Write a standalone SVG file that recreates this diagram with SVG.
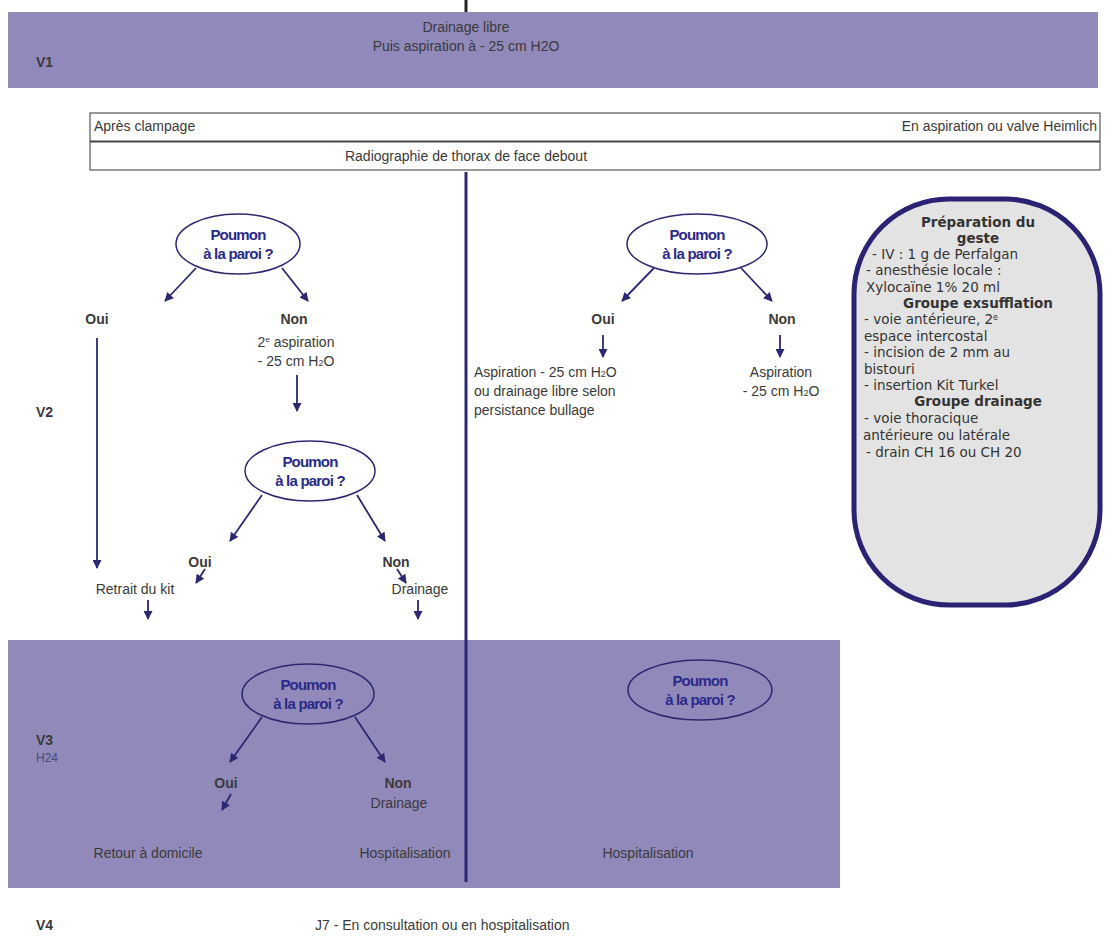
<svg xmlns="http://www.w3.org/2000/svg" width="1112" height="944" viewBox="0 0 1112 944">
<style>
.t{font-family:"Liberation Sans Narrow","Liberation Sans",Arial,sans-serif;font-size:14px;fill:#3a3a3a}
.c{text-anchor:middle}
.b{font-weight:bold}
.q{font-family:"Liberation Sans Narrow","Liberation Sans",Arial,sans-serif;font-size:15px;font-weight:bold;fill:#2a2a8a;text-anchor:middle;letter-spacing:-0.8px}
.lbl{font-family:"Liberation Sans",Arial,sans-serif;font-size:14px;font-weight:bold;fill:#3a3a3a}
.p{font-family:"DejaVu Sans",Verdana,sans-serif;font-size:13.5px;fill:#333}
.pb{font-weight:bold}
.band{fill:#9189ba}
.ell{fill:#fff;stroke:#2c2870;stroke-width:1.5}
.ellb{fill:#9189ba;stroke:#2c2870;stroke-width:1.5}
.ar{stroke:#2c2870;stroke-width:1.8;fill:none;marker-end:url(#ah)}
</style>
<defs>
<marker id="ah" viewBox="0 0 10 10" refX="9" refY="5" markerWidth="10" markerHeight="9" orient="auto" markerUnits="userSpaceOnUse">
<path d="M0,0 L10,5 L0,10 z" fill="#2c2870"/>
</marker>
</defs>
<rect width="1112" height="944" fill="#fff"/>

<g id="bands">
<rect class="band" x="8" y="12" width="1090" height="76"/>
<rect class="band" x="8" y="640" width="832" height="248"/>
</g>

<g id="v1">
<text class="lbl" x="36" y="67">V1</text>
<text class="t c" x="466" y="32">Drainage libre</text>
<text class="t c" x="466" y="51">Puis aspiration à - 25 cm H2O</text>
</g>

<g id="box">
<rect x="90" y="113" width="1010" height="57" fill="#fff" stroke="#555" stroke-width="1.2"/>
<line x1="90" y1="141.5" x2="1100" y2="141.5" stroke="#444" stroke-width="2"/>
<text class="t" x="94" y="131">Après clampage</text>
<text class="t" x="1097" y="131" text-anchor="end">En aspiration ou valve Heimlich</text>
<text class="t c" x="466" y="161">Radiographie de thorax de face debout</text>
</g>

<g id="labels">
<text class="lbl" x="36" y="417">V2</text>
<text class="lbl" x="36" y="745">V3</text>
<text class="t" x="36" y="762" style="font-size:12px;fill:#4a4a7a">H24</text>
<text class="lbl" x="36" y="930">V4</text>
<text class="t" x="315" y="930">J7 - En consultation ou en hospitalisation</text>
</g>

<g id="connectors">
<line x1="466" y1="0" x2="466" y2="12" stroke="#222" stroke-width="3"/>
<line x1="466" y1="172" x2="466" y2="882" stroke="#2c2870" stroke-width="3"/>
<line class="ar" x1="196" y1="268" x2="165" y2="301"/>
<line class="ar" x1="282" y1="268" x2="308" y2="301"/>
<line class="ar" x1="297" y1="375" x2="297" y2="411"/>
<line class="ar" x1="97" y1="338" x2="97" y2="568"/>
<line class="ar" x1="262" y1="495" x2="230" y2="541"/>
<line class="ar" x1="357" y1="495" x2="385" y2="541"/>
<line class="ar" x1="205" y1="569" x2="196" y2="583"/>
<line class="ar" x1="397" y1="569" x2="406" y2="583"/>
<line class="ar" x1="148" y1="600" x2="148" y2="619"/>
<line class="ar" x1="418" y1="600" x2="418" y2="619"/>
<line class="ar" x1="654" y1="268" x2="622" y2="301"/>
<line class="ar" x1="741" y1="268" x2="772" y2="301"/>
<line class="ar" x1="603" y1="335" x2="603" y2="357"/>
<line class="ar" x1="780" y1="335" x2="780" y2="357"/>
<line class="ar" x1="262" y1="717" x2="230" y2="762"/>
<line class="ar" x1="355" y1="717" x2="385" y2="762"/>
<line class="ar" x1="231" y1="794" x2="222" y2="810"/>
</g>

<g id="q1">
<ellipse class="ell" cx="238" cy="244" rx="62" ry="30"/>
<text class="q" x="238" y="240">Poumon</text>
<text class="q" x="238" y="259">à la paroi ?</text>
</g>
<g id="l-oui"><text class="t b c" x="97" y="324">Oui</text></g>
<g id="l-non"><text class="t b c" x="294" y="324">Non</text>
<text class="t c" x="296" y="347">2<tspan dy="-5" font-size="8">e</tspan><tspan dy="5"> aspiration</tspan></text>
<text class="t c" x="296" y="366">- 25 cm H<tspan font-size="9">2</tspan>O</text>
</g>

<g id="q2">
<ellipse class="ell" cx="310" cy="471" rx="65" ry="30"/>
<text class="q" x="310" y="467">Poumon</text>
<text class="q" x="310" y="486">à la paroi ?</text>
</g>
<g id="q2-oui"><text class="t b c" x="200" y="567">Oui</text></g>
<g id="q2-non"><text class="t b c" x="396" y="567">Non</text></g>
<g id="retrait"><text class="t c" x="135" y="594">Retrait du kit</text></g>
<g id="drainage"><text class="t c" x="420" y="594">Drainage</text></g>

<g id="q3">
<ellipse class="ellb" cx="308" cy="694" rx="66" ry="30"/>
<text class="q" x="308" y="690">Poumon</text>
<text class="q" x="308" y="709">à la paroi ?</text>
</g>
<g id="q3-oui"><text class="t b c" x="226" y="788">Oui</text></g>
<g id="q3-non"><text class="t b c" x="398" y="788">Non</text>
<text class="t c" x="399" y="808">Drainage</text></g>
<g id="retour"><text class="t c" x="148" y="858">Retour à domicile</text></g>
<g id="hosp1"><text class="t c" x="405" y="858">Hospitalisation</text></g>

<g id="q4">
<ellipse class="ell" cx="697" cy="244" rx="70" ry="30"/>
<text class="q" x="697" y="240">Poumon</text>
<text class="q" x="697" y="259">à la paroi ?</text>
</g>
<g id="q4-oui"><text class="t b c" x="603" y="324">Oui</text></g>
<g id="q4-non"><text class="t b c" x="782" y="324">Non</text></g>
<g id="asp1">
<text class="t" x="474" y="377">Aspiration - 25 cm H<tspan font-size="9">2</tspan>O</text>
<text class="t" x="474" y="396">ou drainage libre selon</text>
<text class="t" x="474" y="415">persistance bullage</text>
</g>
<g id="asp2">
<text class="t c" x="781" y="377">Aspiration</text>
<text class="t c" x="781" y="396">- 25 cm H<tspan font-size="9">2</tspan>O</text>
</g>

<g id="q5">
<ellipse class="ellb" cx="700" cy="690" rx="72" ry="30"/>
<text class="q" x="700" y="686">Poumon</text>
<text class="q" x="700" y="705">à la paroi ?</text>
</g>
<g id="hosp2"><text class="t c" x="648" y="858">Hospitalisation</text></g>

<g id="prep">
<rect x="854" y="199" width="246" height="406" rx="95" ry="95" fill="#e3e3e3" stroke="#2a2272" stroke-width="5"/>
<text class="p pb" x="978" y="227" text-anchor="middle">Préparation du</text>
<text class="p pb" x="978" y="243" text-anchor="middle">geste</text>
<text class="p" x="872" y="259">- IV : 1 g de Perfalgan</text>
<text class="p" x="866" y="275">- anesthésie locale :</text>
<text class="p" x="866" y="292">Xylocaïne 1% 20 ml</text>
<text class="p pb" x="978" y="308" text-anchor="middle">Groupe exsufflation</text>
<text class="p" x="864" y="324">- voie antérieure, 2<tspan font-size="8" dy="-4">e</tspan></text>
<text class="p" x="864" y="341">espace intercostal</text>
<text class="p" x="864" y="357">- incision de 2 mm au</text>
<text class="p" x="864" y="374">bistouri</text>
<text class="p" x="864" y="390">- insertion Kit Turkel</text>
<text class="p pb" x="978" y="406" text-anchor="middle">Groupe drainage</text>
<text class="p" x="864" y="423">- voie thoracique</text>
<text class="p" x="863" y="440">antérieure ou latérale</text>
<text class="p" x="866" y="457">- drain CH 16 ou CH 20</text>
</g>
</svg>
